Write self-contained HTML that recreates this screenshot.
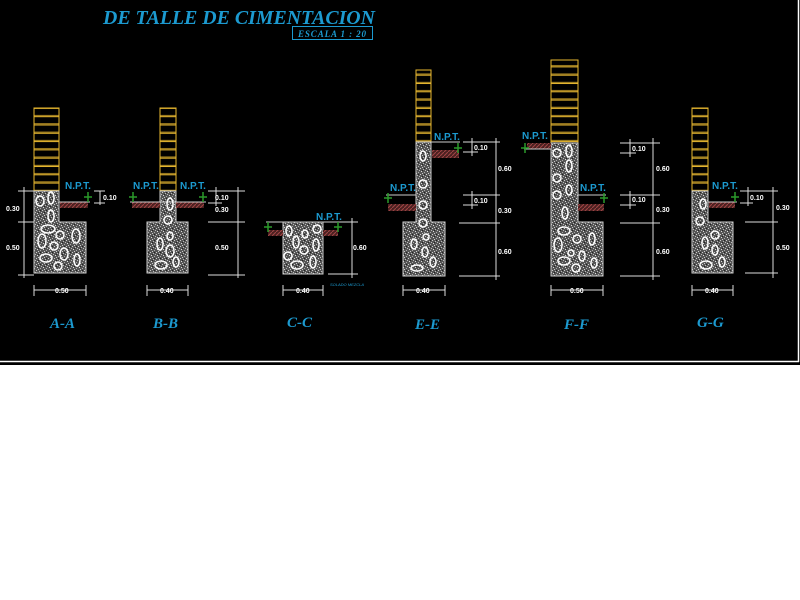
<!DOCTYPE html>
<html><head><meta charset="utf-8"><style>
html,body{margin:0;padding:0;background:#fff;width:800px;height:600px;overflow:hidden}
svg{display:block}
.t{font-family:"Liberation Serif",serif;font-weight:bold;font-style:italic;fill:#1c9ad0}
.n{font-family:"Liberation Sans",sans-serif;font-weight:bold;fill:#1c9ad0;font-size:10px}
.d{font-family:"Liberation Sans",sans-serif;font-weight:bold;fill:#fff;font-size:7px}
.dl{stroke:#ddd;stroke-width:1;fill:none}
.st{fill:none;stroke:#fff;stroke-width:1.5}
.gr{stroke:#2a9a2a;stroke-width:1.5}
</style></head><body>
<svg width="800" height="600" viewBox="0 0 800 600">
<defs>
<pattern id="c" width="6" height="6" patternUnits="userSpaceOnUse">
<rect width="6" height="6" fill="#555"/>
<rect x="0" y="0" width="1" height="1" fill="#ccc"/><rect x="3" y="1" width="1" height="1" fill="#bbb"/>
<rect x="1" y="3" width="1" height="1" fill="#ddd"/><rect x="4" y="4" width="1" height="1" fill="#aaa"/>
<rect x="2" y="5" width="1" height="1" fill="#ccc"/><rect x="5" y="2" width="1" height="1" fill="#bbb"/>
<rect x="2" y="2" width="1" height="1" fill="#222"/><rect x="4" y="0" width="1" height="1" fill="#222"/>
</pattern>
<pattern id="h" width="4" height="4" patternUnits="userSpaceOnUse">
<rect width="4" height="4" fill="#4a2020"/><path d="M0 4L4 0" stroke="#a04545" stroke-width="1"/>
</pattern>
<pattern id="b" width="10" height="8.3" patternUnits="userSpaceOnUse">
<rect width="10" height="8.3" fill="#000"/><line x1="0" y1="0.5" x2="10" y2="0.5" stroke="#e8b830" stroke-width="1"/><line x1="0" y1="7.6" x2="10" y2="7.6" stroke="#e8b830" stroke-width="0.8"/>
</pattern>
</defs>
<rect width="800" height="365" fill="#000"/>
<line x1="0" y1="361.5" x2="799" y2="361.5" stroke="#fff" stroke-width="1.5"/>
<line x1="798.5" y1="0" x2="798.5" y2="362" stroke="#fff" stroke-width="1.5"/>

<text x="103" y="24" class="t" font-size="20" textLength="272" lengthAdjust="spacingAndGlyphs">DE TALLE DE CIMENTACION</text>
<rect x="292.5" y="26.5" width="80" height="13" fill="none" stroke="#1c9ad0"/>
<text x="298" y="37" class="t" font-size="9" textLength="68">ESCALA  1 : 20</text>

<!-- A-A -->
<rect x="34" y="108" width="25" height="83" fill="url(#b)" stroke="#e8b830"/>
<path d="M34 191H59V222H86V273H34Z" fill="url(#c)" stroke="#ccc"/>
<rect x="60" y="202" width="28" height="6" fill="url(#h)"/>
<line x1="59" y1="202" x2="90" y2="202" stroke="#ccc"/>
<text x="65" y="189" class="n">N.P.T.</text>
<line class="gr" x1="84" y1="197" x2="92" y2="197"/><line class="gr" x1="88" y1="192" x2="88" y2="202"/>
<g class="st"><ellipse cx="40" cy="201" rx="4" ry="5"/><ellipse cx="51" cy="198" rx="3" ry="6"/><ellipse cx="51" cy="216" rx="3" ry="6"/><ellipse cx="48" cy="229" rx="7" ry="4"/><ellipse cx="60" cy="235" rx="4" ry="4"/><ellipse cx="76" cy="236" rx="4" ry="7"/><ellipse cx="42" cy="241" rx="4" ry="7"/><ellipse cx="54" cy="246" rx="4" ry="4"/><ellipse cx="64" cy="254" rx="4" ry="6"/><ellipse cx="46" cy="258" rx="6" ry="4"/><ellipse cx="77" cy="260" rx="3" ry="6"/><ellipse cx="58" cy="266" rx="4" ry="4"/></g>
<path class="dl" d="M24 187V278M18 191H34M18 222H34M18 275H34M34 290H86M34 285V296M86 285V296M100 191V205M94 191H105M94 203H105"/>
<text x="6" y="211" class="d">0.30</text><text x="6" y="250" class="d">0.50</text>
<text x="55" y="293" class="d">0.50</text><text x="103" y="200" class="d">0.10</text>

<!-- B-B -->
<rect x="160" y="108" width="16" height="83" fill="url(#b)" stroke="#e8b830"/>
<path d="M160 191H176V222H188V273H147V222H160Z" fill="url(#c)" stroke="#ccc"/>
<rect x="132" y="202" width="28" height="6" fill="url(#h)"/><rect x="176" y="202" width="28" height="6" fill="url(#h)"/>
<line x1="130" y1="202" x2="206" y2="202" stroke="#ccc"/>
<text x="133" y="189" class="n">N.P.T.</text><text x="180" y="189" class="n">N.P.T.</text>
<line class="gr" x1="129" y1="197" x2="137" y2="197"/><line class="gr" x1="133" y1="192" x2="133" y2="202"/>
<line class="gr" x1="199" y1="197" x2="207" y2="197"/><line class="gr" x1="203" y1="192" x2="203" y2="202"/>
<g class="st"><ellipse cx="170" cy="204" rx="3" ry="6"/><ellipse cx="168" cy="220" rx="4" ry="4"/><ellipse cx="170" cy="236" rx="3" ry="4"/><ellipse cx="160" cy="244" rx="3" ry="6"/><ellipse cx="170" cy="251" rx="4" ry="6"/><ellipse cx="176" cy="262" rx="3" ry="5"/><ellipse cx="161" cy="265" rx="6" ry="4"/></g>
<path class="dl" d="M238 187V278M208 191H245M208 203H222M208 222H245M208 275H245M147 290H188M147 285V296M188 285V296M216 187V206"/>
<text x="215" y="200" class="d">0.10</text><text x="215" y="212" class="d">0.30</text><text x="215" y="250" class="d">0.50</text><text x="160" y="293" class="d">0.40</text>

<!-- C-C -->
<rect x="283" y="222" width="40" height="52" fill="url(#c)" stroke="#ccc"/>
<rect x="268" y="230" width="15" height="6" fill="url(#h)"/><rect x="323" y="230" width="15" height="6" fill="url(#h)"/>
<line x1="266" y1="222" x2="340" y2="222" stroke="#ccc"/>
<text x="316" y="220" class="n">N.P.T.</text>
<line class="gr" x1="264" y1="227" x2="272" y2="227"/><line class="gr" x1="268" y1="222" x2="268" y2="232"/>
<line class="gr" x1="334" y1="227" x2="342" y2="227"/><line class="gr" x1="338" y1="222" x2="338" y2="232"/>
<g class="st"><ellipse cx="289" cy="231" rx="3" ry="5"/><ellipse cx="305" cy="234" rx="3" ry="4"/><ellipse cx="317" cy="229" rx="4" ry="4"/><ellipse cx="296" cy="242" rx="3" ry="6"/><ellipse cx="316" cy="245" rx="3" ry="6"/><ellipse cx="304" cy="250" rx="4" ry="4"/><ellipse cx="288" cy="256" rx="4" ry="4"/><ellipse cx="313" cy="262" rx="3" ry="6"/><ellipse cx="297" cy="265" rx="6" ry="4"/></g>
<path class="dl" d="M352 218V278M340 222H358M328 274H358M283 290H323M283 285V296M323 285V296"/>
<text x="353" y="250" class="d">0.60</text><text x="296" y="293" class="d">0.40</text>
<text x="330" y="286" font-family="Liberation Sans,sans-serif" font-size="4" fill="#1c9ad0" font-style="italic">SOLADO MEZCLA</text>

<!-- E-E -->
<rect x="416" y="70" width="15" height="72" fill="url(#b)" stroke="#e8b830"/>
<path d="M416 142H431V222H445V276H403V222H416Z" fill="url(#c)" stroke="#ccc"/>
<rect x="432" y="150" width="27" height="8" fill="url(#h)"/><rect x="388" y="204" width="28" height="7" fill="url(#h)"/>
<line x1="431" y1="142" x2="460" y2="142" stroke="#ccc"/><line x1="386" y1="195" x2="416" y2="195" stroke="#ccc"/>
<text x="434" y="140" class="n">N.P.T.</text><text x="390" y="191" class="n">N.P.T.</text>
<line class="gr" x1="454" y1="148" x2="462" y2="148"/><line class="gr" x1="458" y1="143" x2="458" y2="153"/>
<line class="gr" x1="384" y1="198" x2="392" y2="198"/><line class="gr" x1="388" y1="193" x2="388" y2="203"/>
<g class="st"><ellipse cx="423" cy="156" rx="3" ry="5"/><ellipse cx="423" cy="184" rx="4" ry="4"/><ellipse cx="423" cy="205" rx="4" ry="4"/><ellipse cx="423" cy="223" rx="4" ry="4"/><ellipse cx="426" cy="237" rx="3" ry="3"/><ellipse cx="414" cy="244" rx="3" ry="5"/><ellipse cx="425" cy="252" rx="3" ry="5"/><ellipse cx="433" cy="262" rx="3" ry="5"/><ellipse cx="417" cy="268" rx="6" ry="3"/></g>
<path class="dl" d="M496 138V280M463 142H500M463 152H478M463 195H500M463 205H478M459 223H500M459 276H500M472 138V156M472 191V209M403 290H445M403 285V296M445 285V296"/>
<text x="474" y="150" class="d">0.10</text><text x="474" y="203" class="d">0.10</text>
<text x="498" y="171" class="d">0.60</text><text x="498" y="213" class="d">0.30</text><text x="498" y="254" class="d">0.60</text><text x="416" y="293" class="d">0.40</text>

<!-- F-F -->
<rect x="551" y="60" width="27" height="83" fill="url(#b)" stroke="#e8b830"/>
<path d="M551 143H578V222H603V276H551Z" fill="url(#c)" stroke="#ccc"/>
<rect x="527" y="143" width="24" height="6" fill="url(#h)"/><rect x="578" y="204" width="26" height="7" fill="url(#h)"/>
<line x1="524" y1="149" x2="551" y2="149" stroke="#ccc"/><line x1="578" y1="195" x2="606" y2="195" stroke="#ccc"/>
<text x="522" y="139" class="n">N.P.T.</text><text x="580" y="191" class="n">N.P.T.</text>
<line class="gr" x1="521" y1="148" x2="529" y2="148"/><line class="gr" x1="525" y1="143" x2="525" y2="153"/>
<line class="gr" x1="600" y1="198" x2="608" y2="198"/><line class="gr" x1="604" y1="193" x2="604" y2="203"/>
<g class="st"><ellipse cx="557" cy="153" rx="4" ry="4"/><ellipse cx="569" cy="151" rx="3" ry="6"/><ellipse cx="569" cy="166" rx="3" ry="6"/><ellipse cx="557" cy="178" rx="4" ry="4"/><ellipse cx="569" cy="190" rx="3" ry="5"/><ellipse cx="557" cy="195" rx="4" ry="4"/><ellipse cx="565" cy="213" rx="3" ry="6"/><ellipse cx="564" cy="231" rx="6" ry="4"/><ellipse cx="558" cy="245" rx="4" ry="7"/><ellipse cx="577" cy="239" rx="4" ry="4"/><ellipse cx="592" cy="239" rx="3" ry="6"/><ellipse cx="571" cy="253" rx="3" ry="3"/><ellipse cx="582" cy="256" rx="3" ry="5"/><ellipse cx="564" cy="261" rx="6" ry="4"/><ellipse cx="594" cy="263" rx="3" ry="5"/><ellipse cx="576" cy="268" rx="4" ry="4"/></g>
<path class="dl" d="M653 138V280M620 143H660M620 153H636M620 195H660M620 205H636M620 223H660M620 276H660M630 139V157M630 191V209M551 290H603M551 285V296M603 285V296"/>
<text x="632" y="151" class="d">0.10</text><text x="632" y="202" class="d">0.10</text>
<text x="656" y="171" class="d">0.60</text><text x="656" y="212" class="d">0.30</text><text x="656" y="254" class="d">0.60</text><text x="570" y="293" class="d">0.50</text>

<!-- G-G -->
<rect x="692" y="108" width="16" height="83" fill="url(#b)" stroke="#e8b830"/>
<path d="M692 191H708V222H733V273H692Z" fill="url(#c)" stroke="#ccc"/>
<rect x="709" y="202" width="26" height="6" fill="url(#h)"/>
<line x1="708" y1="202" x2="737" y2="202" stroke="#ccc"/>
<text x="712" y="189" class="n">N.P.T.</text>
<line class="gr" x1="731" y1="197" x2="739" y2="197"/><line class="gr" x1="735" y1="192" x2="735" y2="202"/>
<g class="st"><ellipse cx="703" cy="204" rx="3" ry="5"/><ellipse cx="700" cy="221" rx="4" ry="4"/><ellipse cx="715" cy="235" rx="4" ry="4"/><ellipse cx="705" cy="243" rx="3" ry="6"/><ellipse cx="715" cy="250" rx="3" ry="5"/><ellipse cx="722" cy="262" rx="3" ry="5"/><ellipse cx="706" cy="265" rx="6" ry="4"/></g>
<path class="dl" d="M773 187V278M740 191H778M740 203H753M745 222H778M745 273H778M748 187V206M692 290H733M692 285V296M733 285V296"/>
<text x="750" y="200" class="d">0.10</text><text x="776" y="210" class="d">0.30</text><text x="776" y="250" class="d">0.50</text><text x="705" y="293" class="d">0.40</text>

<!-- labels -->
<text x="50" y="328" class="t" font-size="15">A-A</text>
<text x="153" y="328" class="t" font-size="15">B-B</text>
<text x="287" y="327" class="t" font-size="15">C-C</text>
<text x="415" y="329" class="t" font-size="15">E-E</text>
<text x="564" y="329" class="t" font-size="15">F-F</text>
<text x="697" y="327" class="t" font-size="15">G-G</text>
</svg>
</body></html>
